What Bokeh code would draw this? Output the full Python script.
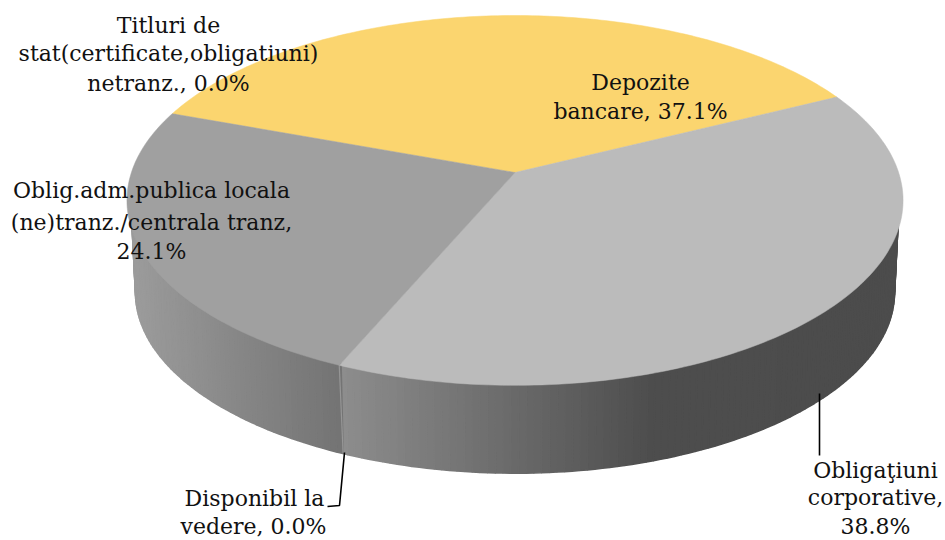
import numpy as np
from bokeh.plotting import figure
from bokeh.embed import file_html
from bokeh.resources import INLINE
from bokeh.core.properties import value

slice_names = ["Depozite bancare", "Obligaţiuni corporative", "Oblig.adm.publica locala (ne)tranz./centrala tranz"]
slice_values = [37.1, 38.8, 24.1]
top_colors = ["#FBD56F", "#BBBBBB", "#A0A0A0"]
start_angle = 290.0

# wall shading stops: (x position, grey level)
wall_stops = [
    ([338, 650, 905], [0x8E, 0x4E, 0x4C]),
    ([130, 338], [0x9C, 0x74]),
]

label_lines = ["Titluri de", "stat(certificate,obligatiuni)", "netranz., 0.0%",
               "Depozite", "bancare, 37.1%",
               "Oblig.adm.publica locala", "(ne)tranz./centrala tranz,", "24.1%",
               "Obligaţiuni", "corporative,", "38.8%",
               "Disponibil la", "vedere, 0.0%"]
label_x = [168, 168, 168, 640, 640, 151, 151, 151, 875, 875, 875, 254, 253]
label_y = [25, 53, 83, 82, 111, 190, 222, 251, 470, 497, 526, 498, 526]

CX, CY, RX, RY, K = 514.5, 172.0, 383.6, 180.7, 0.151
BY, BS = 264.5, 0.978


def project(theta_deg, cy=CY, s=1.0):
    t = np.radians(theta_deg)
    d = 1 + K * np.cos(t)
    return CX + s * RX * np.sin(t) / d, cy - s * RY * np.cos(t) / d


p = figure(width=945, height=540, x_range=(0, 945), y_range=(540, 0),
           output_backend="svg", toolbar_location=None, min_border=0,
           outline_line_color=None)
p.xaxis.visible = False
p.yaxis.visible = False
p.grid.visible = False
p.background_fill_color = "#ffffff"
p.border_fill_color = "#ffffff"

bounds = start_angle + np.cumsum([0] + [v * 3.6 for v in slice_values])

# walls of the two slices turned towards the viewer
xs, ys, cols = [], [], []
for i, stops in zip([1, 2], wall_stops):
    th = np.arange(bounds[i], bounds[i + 1], 1.0)
    th = np.append(th, bounds[i + 1])
    for a, b in zip(th[:-1], th[1:]):
        xt, yt = project(np.array([a, b]), CY, 0.99)
        xb, yb = project(np.array([b, a]), BY, BS)
        xs.append(list(xt) + list(xb))
        ys.append(list(yt) + list(yb))
        g = int(np.interp((xt[0] + xt[1]) / 2, stops[0], stops[1]))
        cols.append(f"#{g:02x}{g:02x}{g:02x}")
p.patches(xs, ys, fill_color=cols, line_color=cols, line_width=1.6)

# light seam at the zero-value slice
sx0, sy0 = project(bounds[2])
sx1, sy1 = project(bounds[2], BY, BS)
p.line([sx0, sx1], [sy0, sy1], line_color="#969696", line_width=1.2)

# top faces
fx, fy = [], []
for i in range(3):
    th = np.append(np.arange(bounds[i], bounds[i + 1], 1.0), bounds[i + 1])
    x, y = project(th)
    fx.append([CX] + list(x))
    fy.append([CY] + list(y))
p.patches(fx, fy, fill_color=top_colors, line_color=top_colors, line_width=0.5)

# leader lines
p.line([819, 819], [393, 455], line_color="#000000", line_width=1.6)
p.line([344, 339, 327], [452, 505, 506], line_color="#000000", line_width=1.6)

p.text(label_x, label_y, text=label_lines, text_align="center", text_baseline="middle",
       text_font=value("DejaVu Serif"), text_font_size="22px", text_color="#111111")

open("out.html", "w").write(file_html(p, INLINE))
